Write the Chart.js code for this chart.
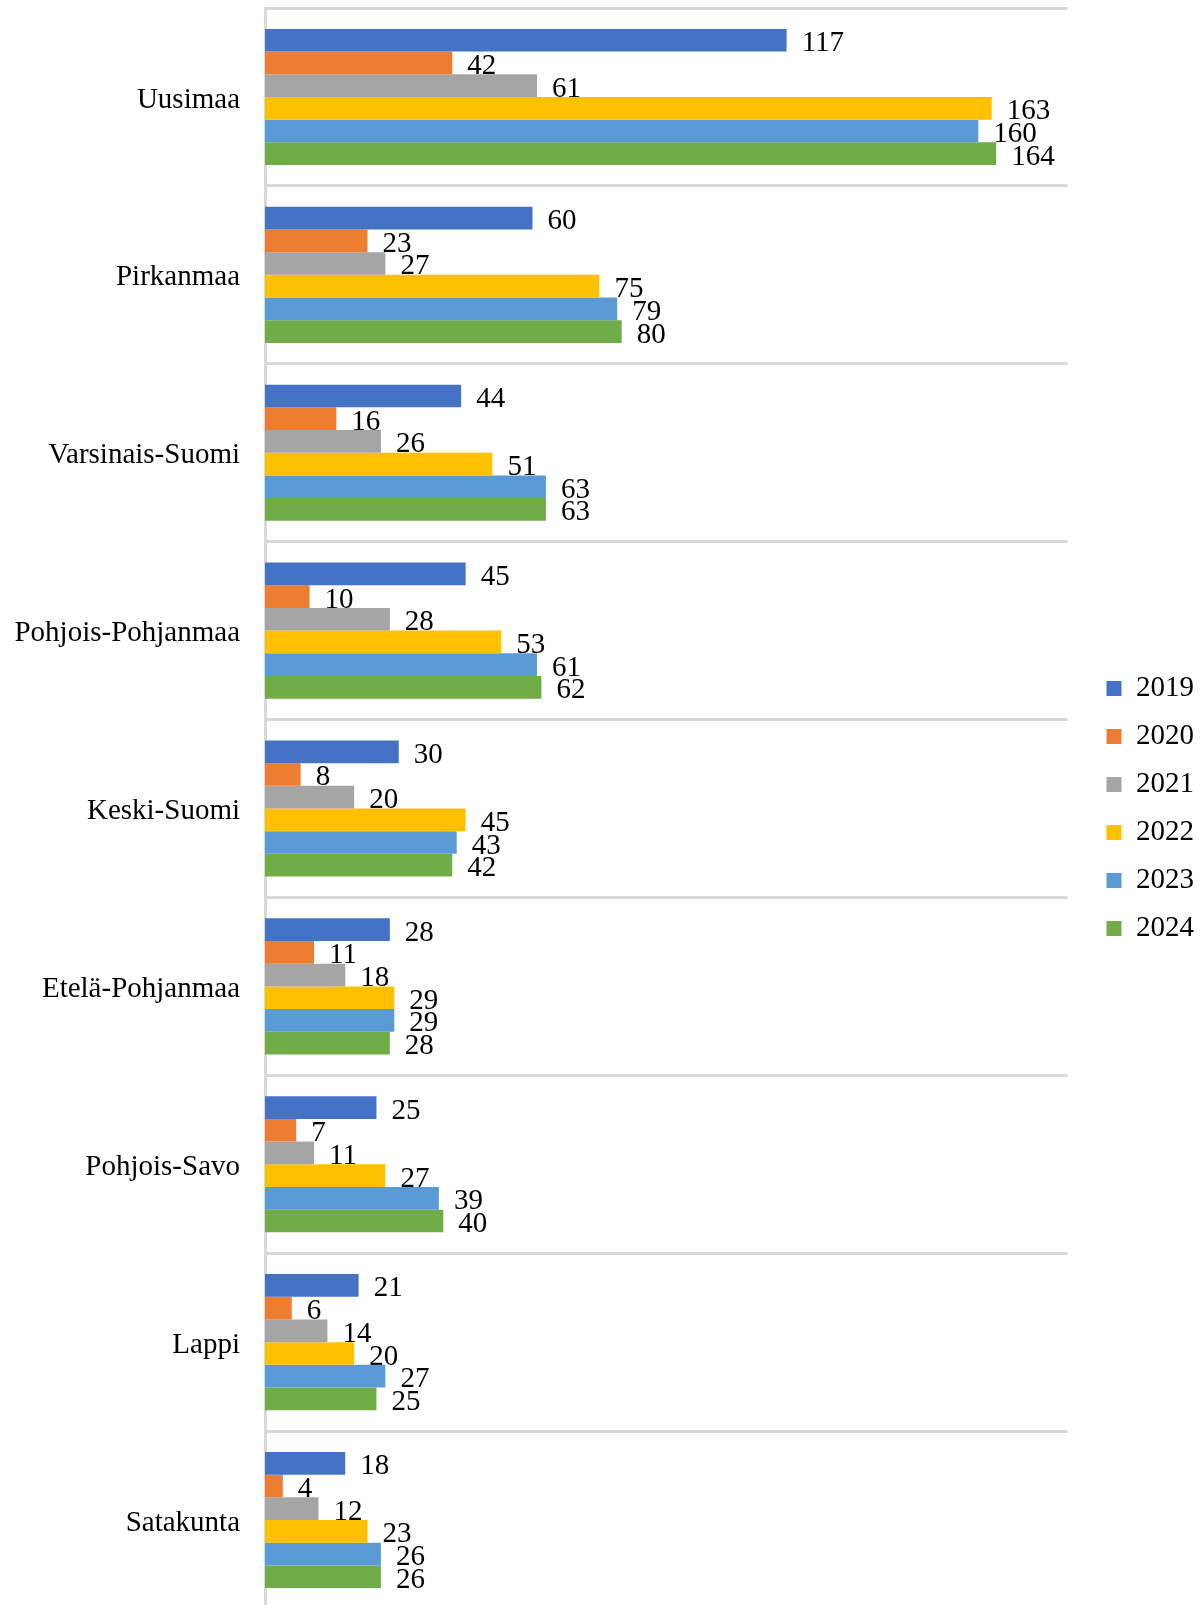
<!DOCTYPE html>
<html>
<head>
<meta charset="utf-8">
<title>Maakunnat 2019–2024</title>
<script src="https://cdn.jsdelivr.net/npm/chart.js@4/dist/chart.umd.min.js"></script>
<style>
  html, body { margin: 0; padding: 0; background: #fff; overflow: hidden; }
  #wrap { width: 1201px; height: 1612px; }
</style>
</head>
<body>
<div id="wrap"><canvas id="myChart" width="1201" height="1612"></canvas></div>
<script>
const regions = [
  "Uusimaa",
  "Pirkanmaa",
  "Varsinais-Suomi",
  "Pohjois-Pohjanmaa",
  "Keski-Suomi",
  "Etelä-Pohjanmaa",
  "Pohjois-Savo",
  "Lappi",
  "Satakunta",
];
const years = ["2019", "2020", "2021", "2022", "2023", "2024"];
const yearColors = ["#4472C4", "#ED7D31", "#A5A5A5", "#FFC000", "#5B9BD5", "#70AD47"];

const v2019 = [117, 60, 44, 45, 30, 28, 25, 21, 18];
const v2020 = [42, 23, 16, 10, 8, 11, 7, 6, 4];
const v2021 = [61, 27, 26, 28, 20, 18, 11, 14, 12];
const v2022 = [163, 75, 51, 53, 45, 29, 27, 20, 23];
const v2023 = [160, 79, 63, 61, 43, 29, 39, 27, 26];
const v2024 = [164, 80, 63, 62, 42, 28, 40, 25, 26];
const seriesValues = [v2019, v2020, v2021, v2022, v2023, v2024];

const xMax = 180;
const serif = "'Times New Roman', 'Liberation Serif', serif";

// labels drawn before the bars, so the next bar covers them like in the original
const valueLabels = {
  id: "valueLabels",
  beforeDatasetsDraw(chart) {
    const ctx = chart.ctx;
    ctx.save();
    ctx.font = "29px " + serif;
    ctx.fillStyle = "#000";
    ctx.textAlign = "left";
    ctx.textBaseline = "alphabetic";
    chart.data.datasets.forEach((ds, i) => {
      const meta = chart.getDatasetMeta(i);
      meta.data.forEach((bar, j) => {
        ctx.fillText(String(ds.data[j]), bar.x + 15, bar.y + 11);
      });
    });
    ctx.restore();
  },
};

const datasets = years.map((year, i) => ({
  label: year,
  data: seriesValues[i],
  backgroundColor: yearColors[i],
  borderWidth: 0,
  categoryPercentage: 0.765,
  barPercentage: 1,
}));

const myChart = new Chart(document.getElementById("myChart"), {
  type: "bar",
  data: { labels: regions, datasets: datasets },
  plugins: [valueLabels],
  options: {
    indexAxis: "y",
    responsive: false,
    animation: false,
    devicePixelRatio: 1,
    layout: { padding: { top: 8, right: -3, bottom: 3, left: 0 } },
    scales: {
      x: { display: false, min: 0, max: xMax },
      y: {
        offset: true,
        grid: { offset: true, color: "#D9D9D9", lineWidth: 3, drawTicks: false },
        border: { display: true, color: "#D9D9D9", width: 3 },
        ticks: { color: "#000", font: { family: serif, size: 29 }, padding: 25, labelOffset: 3 },
        afterFit(scale) {
          scale.width = 265;
          scale.paddingTop = 0;
          scale.paddingBottom = 0;
        },
      },
      // empty axis: keeps a gap between the plot and the legend
      gap: {
        type: "linear",
        position: "right",
        display: true,
        grid: { display: false },
        border: { display: false },
        ticks: { display: false },
        afterFit(scale) {
          scale.width = 20;
          scale.paddingTop = 0;
          scale.paddingBottom = 0;
        },
      },
    },
    plugins: {
      legend: {
        position: "right",
        labels: {
          boxWidth: 15,
          boxHeight: 15,
          padding: 19,
          color: "#000",
          font: { family: serif, size: 29 },
        },
      },
      tooltip: { enabled: false },
    },
  },
});
</script>
</body>
</html>
